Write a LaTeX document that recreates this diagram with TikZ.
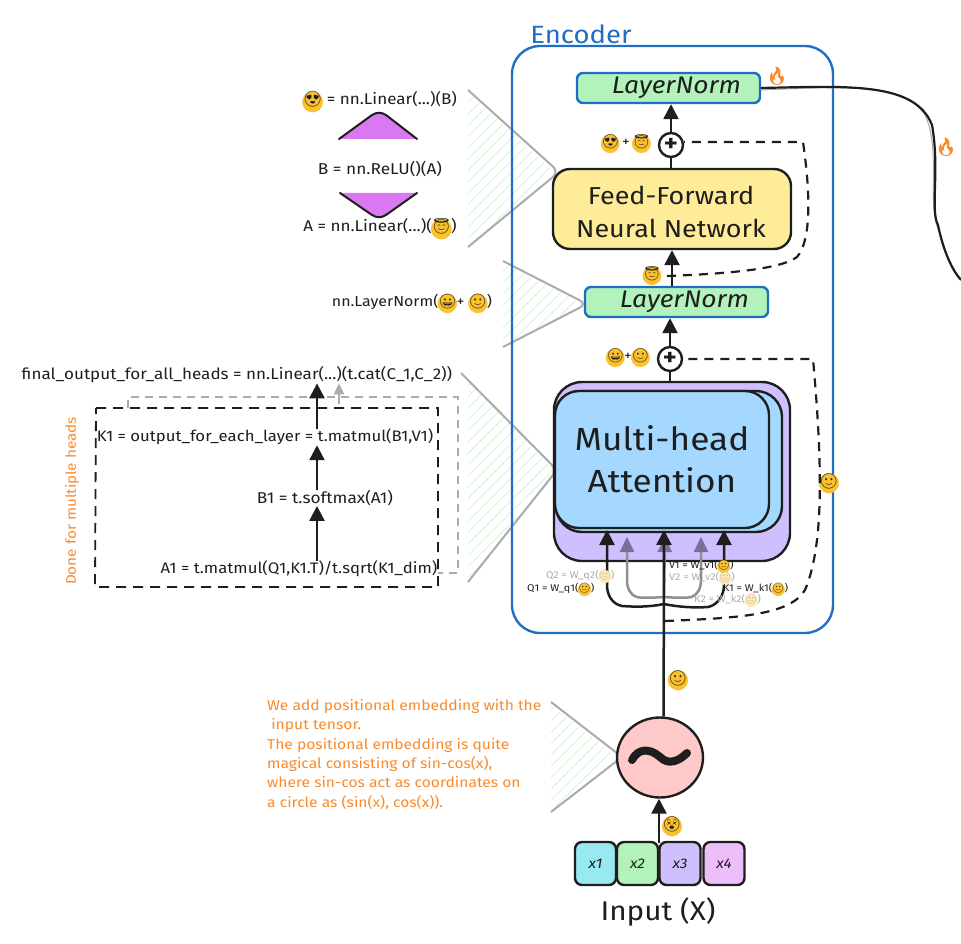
\documentclass[tikz,border=0pt]{standalone}
\usepackage{fontspec}
\usepackage{graphicx}
\setmainfont{Fira Sans}[FakeStretch=1.1]
\newfontfamily\emj{Noto Emoji}
\newfontfamily\djv{DejaVu Sans}
\usetikzlibrary{arrows.meta,patterns.meta,shapes.geometric}
\definecolor{enc}{HTML}{1E6FC4}
\definecolor{emoy}{HTML}{FBC02D}
\definecolor{org}{HTML}{F98A2B}
\definecolor{grn}{HTML}{B2F2BB}
\definecolor{ylw}{HTML}{FFEC99}
\definecolor{pur}{HTML}{D0BFFF}
\definecolor{blu}{HTML}{A5D8FF}
\definecolor{pnk}{HTML}{FFC9C9}
\definecolor{cyn}{HTML}{99E9F2}
\definecolor{mag}{HTML}{EEBEFA}
\definecolor{tri}{HTML}{D978F0}
\definecolor{ink}{HTML}{1E1E1E}
\definecolor{gry}{HTML}{ABABAB}
\definecolor{hat}{HTML}{D5F5DA}
\definecolor{wireg}{HTML}{8E8E8E}
\definecolor{tipv}{HTML}{7A6F9C}
\newcommand\emo[1]{\makebox[1.25em][c]{\makebox[0pt][c]{\raisebox{-.28em}{\scalebox{1.75}{\textcolor{emoy}{\djv ●}}}}\makebox[0pt][c]{\emj\color{ink}#1}}}
\newcommand\emg[1]{\makebox[1.25em][c]{\makebox[0pt][c]{\raisebox{-.28em}{\scalebox{1.75}{\textcolor{emoy!35}{\djv ●}}}}\makebox[0pt][c]{\emj\color{gry}#1}}}
\newcommand\fire{{\emj\color{org}🔥}}
\newcommand\lnorm{\raisebox{-2.5pt}{\hspace{16pt}LayerNorm}}
\tikzset{
  x=1pt,y=-1pt,
  lab/.style={inner sep=0pt,text=ink,font=\fontsize{#1}{#1}\selectfont},
  lab/.default=14,
  arr/.style={draw=ink,line width=2.5pt,-{Triangle[length=15pt,width=15pt]}},
  garr/.style={draw=wireg,line width=2.5pt,-{Triangle[length=15pt,width=14pt,color=tipv]}},
  stroke/.style={draw=ink,line width=2.5pt},
  dashline/.style={draw=ink,line width=2.2pt,dash pattern=on 9pt off 7pt},
  hatchfill/.style={pattern={Lines[angle=45,distance=8pt,line width=0.9pt]},pattern color=hat},
  callout/.style={draw=gry,line width=2pt,rounded corners=8pt},
  normbox/.style={draw=enc,fill=grn,line width=2.4pt,rounded corners=6pt,minimum width=183pt,minimum height=30pt,inner sep=0pt,font=\fontsize{24}{24}\selectfont\itshape,text=ink},
  block/.style={draw=ink,line width=2.4pt,inner sep=0pt},
  cell/.style={block,rounded corners=7pt,minimum width=41pt,minimum height=43pt,font=\fontsize{14}{14}\selectfont\itshape,text=ink},
  plusnode/.style={circle,draw=ink,fill=white,line width=2.4pt,minimum size=24pt,inner sep=0pt,font=\fontsize{24}{24}\selectfont\bfseries,text=ink},
  small/.style={inner sep=0pt,font=\fontsize{9.8}{9.8}\selectfont,text=ink},
  smallg/.style={inner sep=0pt,font=\fontsize{9.8}{9.8}\selectfont,text=gry},
}
\begin{document}
\begin{tikzpicture}
\useasboundingbox (0,0) rectangle (961,944);
% callouts
\path[hatchfill] (468,92) -- (554,172) -- (468,247) -- cycle;
\draw[callout] (468,90) -- (559,172) -- (468,247);
\path[hatchfill] (503,263) -- (583,304) -- (503,345) -- cycle;
\draw[callout] (503,261) -- (587,304) -- (503,347);
\path[hatchfill] (468,378) -- (553,470) -- (468,582) -- cycle;
\draw[callout] (461,373) -- (557,470) -- (468,582);
\path[hatchfill] (551,704) -- (617,757) -- (551,812) -- cycle;
\draw[callout] (551,702) -- (622,757) -- (551,812);
% encoder
\node[inner sep=0pt,text=enc,font=\fontsize{25}{25}\selectfont] (enclabel) at (581,34) {Encoder};
\node[draw=enc,line width=2.4pt,rounded corners=28pt,minimum width=321pt,minimum height=587pt,inner sep=0pt] (encoder) at (672.5,339.5) {};
% main blocks
\node[normbox] (lnt) at (668.5,88) {\lnorm};
\node[normbox] (lnb) at (676.5,302) {\lnorm};
\node[block,fill=ylw,rounded corners=17pt,minimum width=238pt,minimum height=80pt,inner sep=0pt] (ffn) at (672,209) {};
\node[inner sep=0pt,align=center,font=\fontsize{24.5}{33}\selectfont,text=ink] (ffntext) at (671,212) {Feed-Forward\\Neural Network};
\node[plusnode] (plust) at (671,145) {+};
\node[plusnode] (plusb) at (670,359) {+};
\node[block,fill=pur,rounded corners=28pt,minimum width=236pt,minimum height=179pt] (back) at (672,471.5) {};
\node[block,fill=blu,rounded corners=26pt,minimum width=226pt,minimum height=141pt] (mid) at (669,461.5) {};
\node[block,fill=blu,rounded corners=24pt,minimum width=214pt,minimum height=137pt,align=center,font=\fontsize{32}{42}\selectfont,text=ink] (front) at (662,459.5) {Multi-head\\Attention};
\node[fill=pnk,draw=ink,line width=2.4pt,ellipse,minimum width=86pt,minimum height=80pt,inner sep=0pt] (pe) at (660,757.5) {};
\draw[ink,line width=8pt,line cap=round] (632,760) .. controls (638,748) and (650,748) .. (660,757) .. controls (668,765) and (678,762) .. (687,753);
\node[cell,fill=cyn] (xa) at (595.5,863.5) {x1};
\node[cell,fill=grn] (xb) at (637.5,863.5) {x2};
\node[cell,fill=pur] (xc) at (680,863.5) {x3};
\node[cell,fill=mag] (xd) at (724,863.5) {x4};
\node[lab=27] (inlab) at (658,912) {Input (X)};
% emoji annotations
\node[lab=18] (fa) at (777,76) {\fire};
\node[lab=18] (fb) at (946,147) {\fire};
\node[lab=14] (ea) at (626,144) {\emo{😍}\hspace{3pt}+\hspace{3pt}\emo{😇}};
\node[lab=14] (eb) at (652,276) {\emo{😇}};
\node[lab=14] (ec) at (628,358) {\emo{😀}+\emo{🙂}};
\node[lab=15] (ed) at (829,484) {\emo{🙂}};
\node[lab=15] (ee) at (678,681) {\emo{🙂}};
\node[lab=15] (ef) at (672,827) {\emo{😵}};
% connectors
\draw[arr] (plust.north) -- (plust.north |- lnt.south);
\draw[stroke] (ffn.north -| plust) -- (plust.south);
\draw[arr] (lnb.north -| ffn) -- (ffn.south);
\draw[arr] (plusb.north) -- (plusb.north |- lnb.south);
\draw[stroke] (back.north -| plusb) -- (plusb.south);
\coordinate (inx) at (659,843);
\draw[arr] (inx) -- (inx |- pe.south);
% residual dashes
\coordinate (rsa) at (667,276);
\coordinate (rsb) at (665,621);
\coordinate (rta) at (803,142);
\draw[dashline] (rsa) .. controls (720,274) and (780,270) .. (797,257) .. controls (812,240) and (810,190) .. (rta) -- (plust.east |- rta);
\coordinate (rtb) at (813,359);
\draw[dashline] (rsb) .. controls (740,618) and (790,615) .. (805,590) .. controls (822,550) and (824,480) .. (rtb) -- (plusb.east);
% multihead wiring
\coordinate (jb) at (664,604);
\coordinate (jg) at (664,597);
\coordinate (qa) at (607,530);
\coordinate (ka) at (724,530);
\coordinate (qb) at (627,537);
\coordinate (kb) at (701,537);
\coordinate (vb) at (665,537);
\coordinate (va) at (664,530);
\draw[garr] (jg) .. controls (650,598) and (640,598) .. (637,597) .. controls (630,595) and (627,588) .. (627,580) -- (qb);
\draw[garr] (jg) .. controls (678,598) and (688,598) .. (691,597) .. controls (698,595) and (701,588) .. (701,580) -- (kb);
\draw[garr] (jg) -- (vb);
\draw[arr] (jb) .. controls (650,607) and (635,607) .. (622,606) .. controls (612,604) and (607,595) .. (607,585) -- (qa);
\draw[arr] (jb) .. controls (678,607) and (695,608) .. (708,607) .. controls (718,605) and (724,595) .. (724,585) -- (ka);
\draw[arr] (pe.85) -- (va);
% wiring labels
\node[smallg,anchor=west] (lqb) at (546,577) {Q2 = W\_q2(\emg{🙂})};
\node[small,anchor=west] (lqa) at (527,590) {Q1 = W\_q1(\emo{🙂})};
\node[small,anchor=west] (lva) at (669,567) {V1 = W\_v1(\emo{🙂})};
\node[smallg,anchor=west] (lvb) at (669,579) {V2 = W\_v2(\emg{🙂})};
\node[small,anchor=west] (lka) at (723,590) {K1 = W\_k1(\emo{🙂})};
\node[smallg,anchor=west] (lkb) at (694,601) {K2 = W\_k2(\emg{🙂})};
% feed-forward notes
\node[lab=15.5] (tl) at (380,102) {\emo{😍} = nn.Linear(...)(B)};
\node[lab=15.7] (tb) at (380,169) {B = nn.ReLU()(A)};
\node[lab=15.5] (ta) at (380,229) {A = nn.Linear(...)(\emo{😇})};
\fill[tri] (339,139) -- (372,115) .. controls (377,112) and (381,112) .. (386,115) -- (417,139) -- cycle;
\draw[ink,line width=2pt,line cap=round] (339,139) -- (372,115) .. controls (377,112) and (381,112) .. (386,115) -- (417,139);
\fill[tri] (340,193) -- (372,215) .. controls (377,218) and (381,218) .. (386,215) -- (417,193) -- cycle;
\draw[ink,line width=2pt,line cap=round] (340,193) -- (372,215) .. controls (377,218) and (381,218) .. (386,215) -- (417,193);
\node[lab=14.5] (tn) at (412,304) {nn.LayerNorm(\emo{😀}+ \emo{🙂})};
% attention notes
\draw[draw=gry,line width=1.6pt,dash pattern=on 8pt off 6pt] (128,408) -- (128,397) -- (458,397) -- (458,573) -- (438,573);
\draw[draw=ink,line width=1.8pt,dash pattern=on 10pt off 7pt] (96,408) -- (438,408) -- (438,587) -- (95,587) -- cycle;
\node[lab=15.5] (nf) at (237,375) {final\_output\_for\_all\_heads = nn.Linear(...)(t.cat(C\_1,C\_2))};
\node[lab=15.2] (nc) at (265,437) {K1 = output\_for\_each\_layer = t.matmul(B1,V1)};
\node[lab=15.7] (nb) at (325,498) {B1 = t.softmax(A1)};
\node[lab=15.2] (na) at (299,569) {A1 = t.matmul(Q1,K1.T)/t.sqrt(K1\_dim)};
\coordinate (xm) at (317,0);
\draw[arr] (na.north -| xm) -- (nb.south -| xm);
\draw[arr] (nb.north -| xm) -- (nc.south -| xm);
\draw[arr] (nc.north -| xm) -- (nf.south -| xm);
\coordinate (gs) at (339,404);
\draw[draw=gry,line width=2.2pt,-{Triangle[length=11pt,width=10pt]}] (gs) -- (nf.south -| gs);
\node[lab=13.9,text=org,rotate=90] (nd) at (72,501) {Done for multiple heads};
% positional note
\node[inner sep=0pt,text=org,anchor=north west,align=left,font=\fontsize{14.2}{19.4}\selectfont] (po) at (267,699) {We add positional embedding with the\\\ input tensor.\\The positional embedding is quite\\magical consisting of sin-cos(x),\\where sin-cos act as coordinates on\\a circle as (sin(x), cos(x)).};
% output
\coordinate (outend) at (961,280);
\draw[gry,line width=1pt] (lnt.east) ++(0,2) .. controls (850,86) and (905,84) .. (925,115) .. controls (942,150) and (925,210) .. (941,235) .. controls (945,252) and (952,268) .. (outend);
\draw[ink,line width=2.2pt] (lnt.east) .. controls (850,86) and (915,82) .. (932,125) .. controls (940,170) and (930,210) .. (938,225) .. controls (942,245) and (950,268) .. (outend);
\end{tikzpicture}
\end{document}
